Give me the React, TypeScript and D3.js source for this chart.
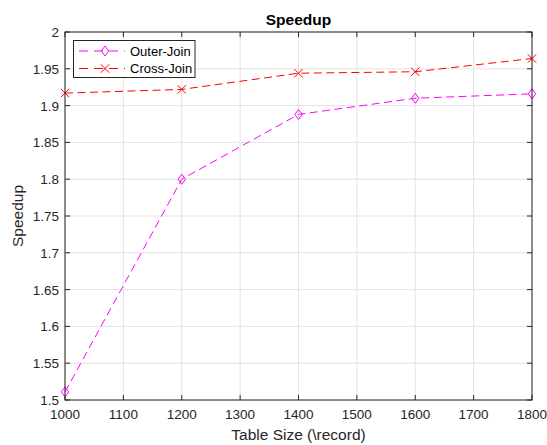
import React from "react";
import * as d3 from "d3";

const tableSizes = [1000, 1200, 1400, 1600, 1800];
const outerJoin = [1.511, 1.8, 1.888, 1.91, 1.916];
const crossJoin = [1.917, 1.922, 1.944, 1.946, 1.964];
const xTicks = [1000, 1100, 1200, 1300, 1400, 1500, 1600, 1700, 1800];
const yTicks = [1.5, 1.55, 1.6, 1.65, 1.7, 1.75, 1.8, 1.85, 1.9, 1.95, 2];
const yTickLabels = ["1.5", "1.55", "1.6", "1.65", "1.7", "1.75", "1.8", "1.85", "1.9", "1.95", "2"];

const W = 547, H = 445;
const L = 65, R = 532, T = 32, B = 400;
const font = "'Liberation Sans', Arial, Helvetica, sans-serif";
const axisColor = "#262626";
const dash = "8,4.5";

export default function App() {
  const x = d3.scaleLinear().domain([1000, 1800]).range([L, R]);
  const y = d3.scaleLinear().domain([1.5, 2]).range([B, T]);
  const line = d3.line<number>().x((_, i) => x(tableSizes[i])).y((d) => y(d));

  const diamond = (cx: number, cy: number, key: string) => (
    <path key={key} d={`M${cx},${cy - 5}L${cx + 3.7},${cy}L${cx},${cy + 5}L${cx - 3.7},${cy}Z`} fill="none" stroke="#ff00ff" strokeWidth={1} />
  );
  const cross = (cx: number, cy: number, key: string) => (
    <path key={key} d={`M${cx - 4.2},${cy - 4.2}L${cx + 4.2},${cy + 4.2}M${cx - 4.2},${cy + 4.2}L${cx + 4.2},${cy - 4.2}`} fill="none" stroke="#ff0000" strokeWidth={1} />
  );

  return (
    <div style={{ position: "absolute", left: 0, top: 0 }}>
      <svg width={W} height={H} style={{ display: "block", background: "#fff" }}>
        <rect x={0} y={0} width={W} height={H} fill="#fff" />
        {xTicks.map((t) => (
          <line key={"gx" + t} x1={x(t)} x2={x(t)} y1={T} y2={B} stroke="#e3e3e3" strokeWidth={1} />
        ))}
        {yTicks.map((t) => (
          <line key={"gy" + t} x1={L} x2={R} y1={y(t)} y2={y(t)} stroke="#e3e3e3" strokeWidth={1} />
        ))}
        {xTicks.map((t) => (
          <g key={"tx" + t}>
            <line x1={x(t)} x2={x(t)} y1={B} y2={B - 5} stroke={axisColor} />
            <line x1={x(t)} x2={x(t)} y1={T} y2={T + 5} stroke={axisColor} />
            <text x={x(t)} y={B + 19} textAnchor="middle" fontFamily={font} fontSize={13.5} fill={axisColor}>{t}</text>
          </g>
        ))}
        {yTicks.map((t, i) => (
          <g key={"ty" + t}>
            <line x1={L} x2={L + 5} y1={y(t)} y2={y(t)} stroke={axisColor} />
            <line x1={R} x2={R - 5} y1={y(t)} y2={y(t)} stroke={axisColor} />
            <text x={L - 6} y={y(t) + 5} textAnchor="end" fontFamily={font} fontSize={13.5} fill={axisColor}>{yTickLabels[i]}</text>
          </g>
        ))}
        <path d={line(outerJoin) || ""} fill="none" stroke="#ff00ff" strokeWidth={1} strokeDasharray={dash} />
        <path d={line(crossJoin) || ""} fill="none" stroke="#ff0000" strokeWidth={1} strokeDasharray={dash} />
        {outerJoin.map((v, i) => diamond(x(tableSizes[i]), y(v), "d" + i))}
        {crossJoin.map((v, i) => cross(x(tableSizes[i]), y(v), "c" + i))}
        <rect x={L} y={T} width={R - L} height={B - T} fill="none" stroke={axisColor} strokeWidth={1} />
        {/* legend */}
        <rect x={73.5} y={40.5} width={121.5} height={37} fill="#fff" stroke={axisColor} strokeWidth={1} />
        <line x1={78} x2={125} y1={51} y2={51} stroke="#ff00ff" strokeDasharray="9,6" strokeDashoffset={-1} />
        {diamond(105, 51, "ld")}
        <text x={130} y={55.5} fontFamily={font} fontSize={13} fill="#000">Outer-Join</text>
        <line x1={78} x2={125} y1={68.5} y2={68.5} stroke="#ff0000" strokeDasharray="9,6" strokeDashoffset={-1} />
        {cross(105, 68.5, "lc")}
        <text x={130} y={73} fontFamily={font} fontSize={13} fill="#000">Cross-Join</text>
        <text x={(L + R) / 2} y={25} textAnchor="middle" fontFamily={font} fontSize={15.5} fontWeight="bold" fill="#000">Speedup</text>
        <text x={(L + R) / 2} y={440} textAnchor="middle" fontFamily={font} fontSize={15.5} fill={axisColor}>Table Size (\record)</text>
        <text transform={`translate(23,${(T + B) / 2}) rotate(-90)`} textAnchor="middle" fontFamily={font} fontSize={15.5} fill={axisColor}>Speedup</text>
      </svg>
    </div>
  );
}
